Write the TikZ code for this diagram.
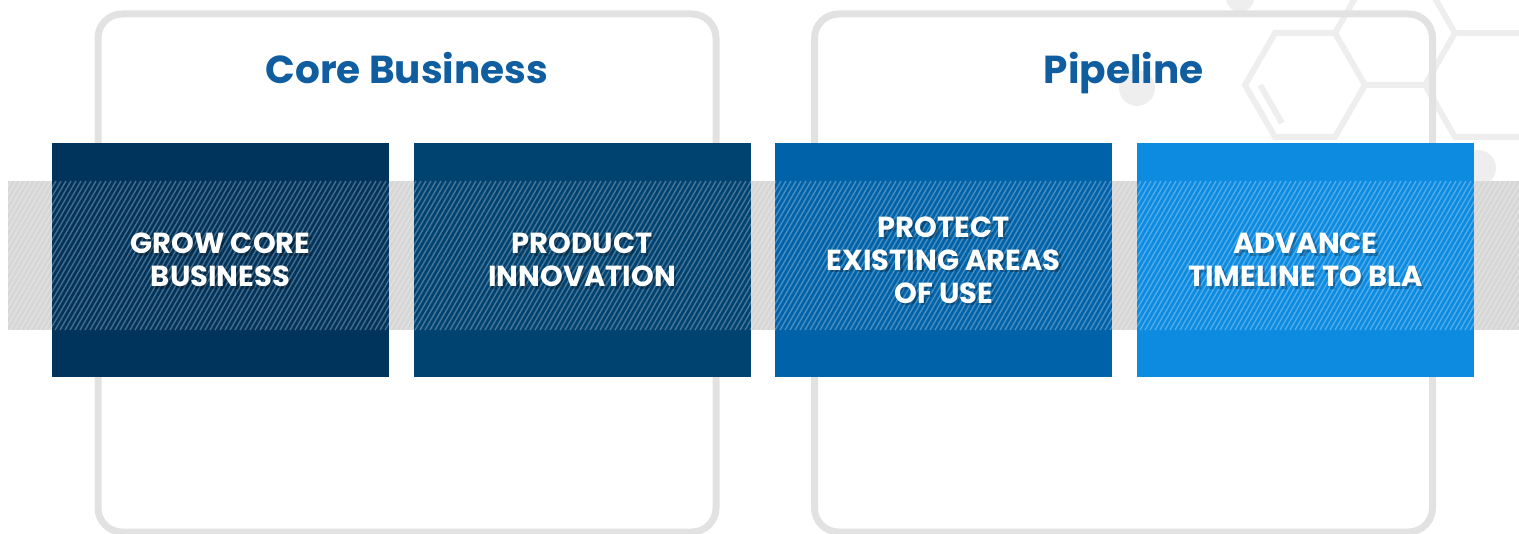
\documentclass[tikz,border=0pt]{standalone}
\usepackage{fontspec}
\setmainfont{Poppins}
\usepackage{tikz}
\usetikzlibrary{positioning}

\definecolor{navyA}{RGB}{0,52,92}
\definecolor{navyB}{RGB}{0,66,112}
\definecolor{blueC}{RGB}{0,98,168}
\definecolor{blueD}{RGB}{12,139,225}
\definecolor{titleblue}{RGB}{16,94,160}
\definecolor{framegray}{RGB}{226,226,226}
\definecolor{bandgray}{RGB}{214,214,214}
\definecolor{hexgray}{RGB}{238,238,238}

\begin{document}
\begin{tikzpicture}[
    x=0.5pt, y=-0.5pt,
    node distance=12.3pt,
    goalbox/.style={rectangle, minimum width=168.5pt, minimum height=117pt, inner sep=0pt, outer sep=0pt, text=white, align=center, font=\fontsize{14.5}{16.5}\selectfont\bfseries},
    goalshadow/.style={goalbox, text=black, text opacity=0.25},
    groupframe/.style={rectangle, draw=framegray, line width=3.5pt, rounded corners=12pt, minimum width=309pt, minimum height=259pt},
    grouptitle/.style={text=titleblue, anchor=base, font=\fontsize{19.5}{22}\selectfont\bfseries},
    hexline/.style={draw=hexgray, line width=3pt}
]
\useasboundingbox (0,0) rectangle (1519,534);

% background hexagons (top right)
\draw[hexline] (1245,85) -- (1275,33) -- (1335,33) -- (1365,85) -- (1335,137) -- (1275,137) -- cycle;
\draw[hexline] (1335,33) -- (1365,-19) -- (1425,-19) -- (1455,33) -- (1425,85) -- (1365,85);
\draw[hexline] (1425,85) -- (1455,137) -- (1519,137);
\draw[hexline] (1455,33) -- (1519,33);
\draw[hexline] (1260,85) -- (1282,123);
\fill[hexgray] (1240,-2) circle (14);
\fill[hexgray] (1137,88) circle (18);
\fill[hexgray] (1478,168) circle (18);

% rahmen
\node[groupframe] (coreframe) at (407,273) {};
\node[groupframe] (pipeframe) at (1123.5,273) {};
\node[grouptitle] (coretitle) at (407,84) {Core Business};
\node[grouptitle] (pipetitle) at (1123.5,84) {Pipeline};

% grey band
\fill[bandgray] (8,181) rectangle (1519,330);

% four goals
\node[goalbox, fill=navyA] (grow) at (220.5,260) {};
\node[goalbox, fill=navyB, right=of grow] (innov) {};
\node[goalbox, fill=blueC, right=of innov] (protect) {};
\node[goalbox, fill=blueD, right=of protect] (advance) {};

% hatching over the band
\begin{scope}
  \clip (8,181) rectangle (1519,330);
  \foreach \i in {-100,-95,...,1520}
    \draw[white, opacity=0.28, line width=0.7pt] (\i,330) -- ++(86,-149);
\end{scope}

% labels with a soft shadow
\foreach \n/\t in {grow/{GROW CORE\\BUSINESS}, innov/{PRODUCT\\INNOVATION},
    protect/{PROTECT\\EXISTING AREAS\\OF USE}, advance/{ADVANCE\\TIMELINE TO BLA}} {
  \node[goalshadow] at ([shift={(1.2pt,-1.2pt)}]\n) {\t};
  \node[goalbox] at (\n) {\t};
}

\end{tikzpicture}
\end{document}
